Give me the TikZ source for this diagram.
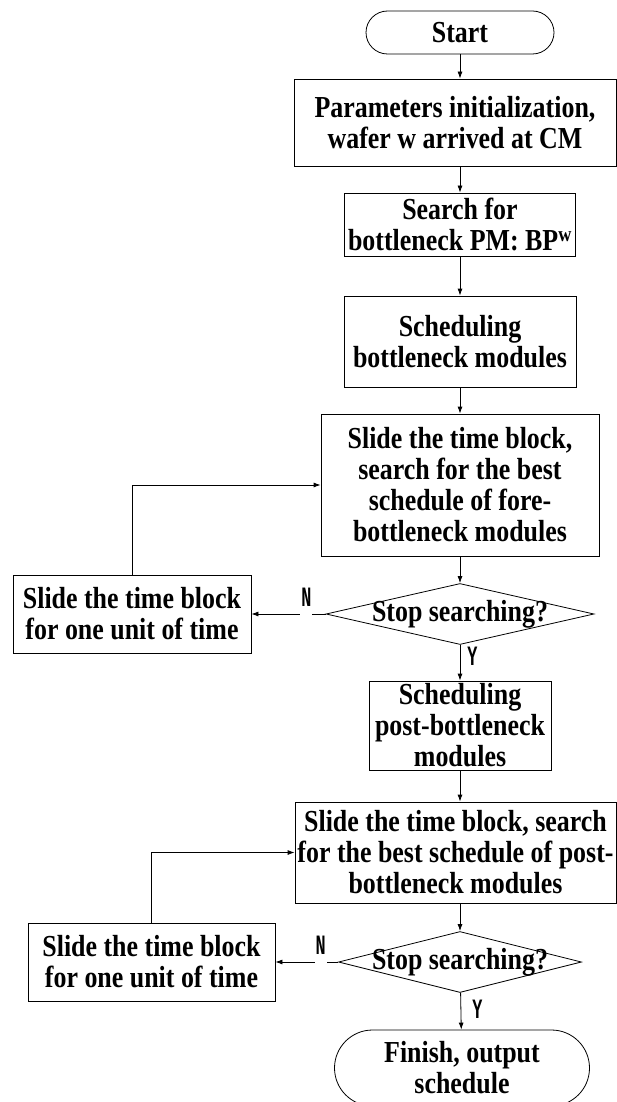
\documentclass[tikz,border=0pt]{standalone}
\usepackage{fontspec}
\setmainfont{Liberation Serif}[FakeStretch=0.85]
\newfontfamily\ynfont[FakeStretch=0.6]{Liberation Mono}
\usetikzlibrary{shapes.geometric,arrows.meta}

\begin{document}
\begin{tikzpicture}[x=1pt, y=-1pt,
    txt/.style={font=\fontsize{30.5}{31}\selectfont\bfseries, align=center, inner sep=1pt},
    box/.style={txt, rectangle, draw, line width=0.8pt},
    term/.style={txt, rectangle, draw, rounded corners=#1, line width=0.8pt},
    dec/.style={txt, diamond, draw, aspect=4.4, inner sep=0pt, line width=0.8pt},
    arr/.style={-{Latex[length=7pt,width=5pt]}, line width=0.8pt},
    yn/.style={font=\fontsize{28}{28}\ynfont\bfseries, inner sep=1pt}]
    \useasboundingbox (0,0) rectangle (617,1102);

    % main column
    \node[term=21.5pt, minimum width=188, minimum height=43] (start) at (460,32.5) {Start};
    \node[box, minimum width=322, minimum height=87] (init) at (455,122.5) {Parameters initialization,\\wafer w arrived at CM};
    \node[box, minimum width=231, minimum height=63] (search) at (460,224.5) {Search for\\bottleneck PM: BP\textsuperscript{w}};
    \node[box, minimum width=232, minimum height=91] (sched) at (460,341.5) {Scheduling\\bottleneck modules};
    \node[box, minimum width=278, minimum height=142] (fore) at (460,485) {Slide the time block,\\search for the best\\schedule of fore-\\bottleneck modules};
    \node[dec, minimum width=268, minimum height=61] (stop1) at (460,614) {\makebox[0pt]{Stop searching?}};
    \node[box, minimum width=182, minimum height=89] (post) at (460,725.5) {Scheduling\\post-bottleneck\\modules};
    \node[box, minimum width=321, minimum height=101] (postsearch) at (455.5,852.5) {Slide the time block, search\\for the best schedule of post-\\bottleneck modules};
    \node[dec, minimum width=243, minimum height=61] (stop2) at (460,962) {\makebox[0pt]{Stop searching?}};
    \node[term=38pt, minimum width=255, minimum height=76] (finish) at (462,1068) {Finish, output\\schedule};

    % side boxes
    \node[box, minimum width=238, minimum height=78] (slide1) at (132,614) {Slide the time block\\for one unit of time};
    \node[box, minimum width=247, minimum height=78] (slide2) at (151.5,962) {Slide the time block\\for one unit of time};

    % arrows
    \draw[arr] (start) -- (start |- init.north);
    \draw[arr] (init.south -| search) -- (search);
    \draw[arr] (search) -- (sched);
    \draw[arr] (sched) -- (fore);
    \draw[arr] (fore) -- (stop1);
    \draw[arr] (stop1) -- node[yn, pos=0.26, fill=white, text depth=12pt, anchor=base, yshift=8pt] {N} (slide1);
    \draw[arr] (slide1) |- (fore);
    \draw[arr] (stop1) -- node[yn, pos=0.33, right, xshift=6pt] {Y} (post);
    \draw[arr] (post) -- (post |- postsearch.north);
    \draw[arr] (postsearch.south -| stop2) -- (stop2);
    \draw[arr] (stop2) -- node[yn, pos=0.28, fill=white, text depth=12pt, anchor=base, yshift=8pt] {N} (slide2);
    \draw[arr] (slide2) |- (postsearch);
    \draw[arr] (stop2) -- node[yn, pos=0.44, right, xshift=10pt] {Y} (finish);
\end{tikzpicture}
\end{document}
